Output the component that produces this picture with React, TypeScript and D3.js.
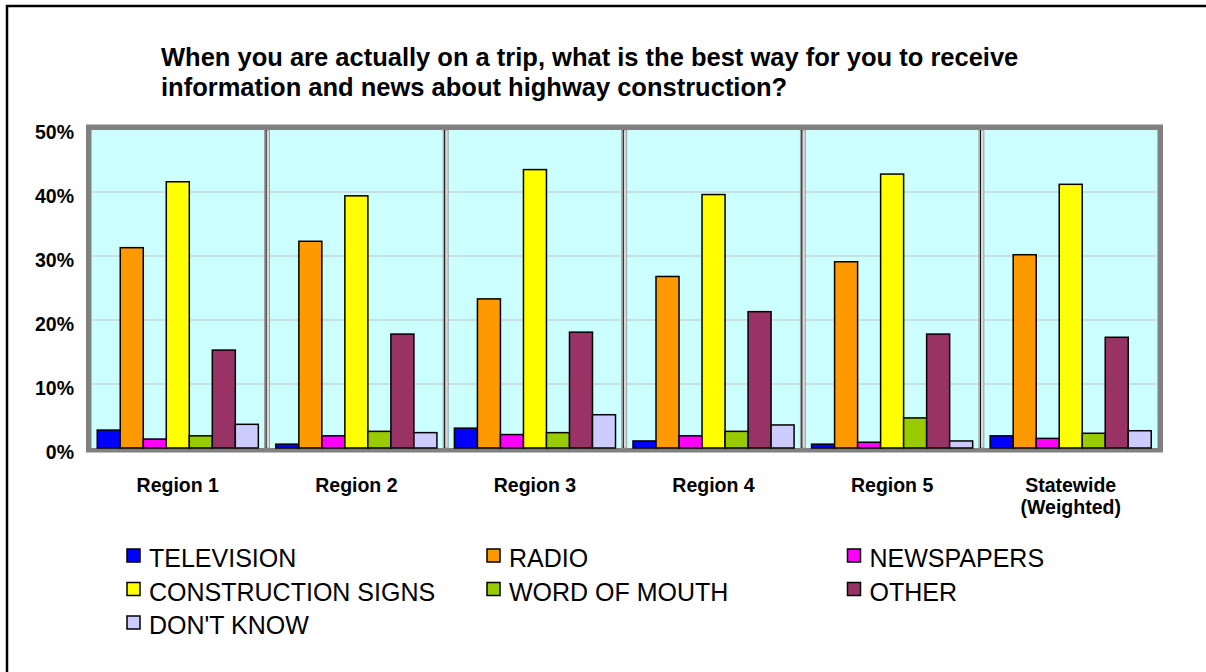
import React from "react";
import * as d3 from "d3";

const categories = ["Region 1", "Region 2", "Region 3", "Region 4", "Region 5", "Statewide (Weighted)"];
const seriesNames = ["TELEVISION", "RADIO", "NEWSPAPERS", "CONSTRUCTION SIGNS", "WORD OF MOUTH", "OTHER", "DON'T KNOW"];
const seriesColors = ["#0000FF", "#FF9900", "#FF00FF", "#FFFF00", "#99CC00", "#993366", "#CCCCFF"];

const television = [2.8, 0.6, 3.1, 1.1, 0.6, 1.9];
const radio = [31.3, 32.3, 23.3, 26.8, 29.1, 30.2];
const newspapers = [1.4, 1.9, 2.1, 1.9, 0.9, 1.5];
const constructionSigns = [41.6, 39.4, 43.5, 39.6, 42.8, 41.2];
const wordOfMouth = [1.9, 2.6, 2.4, 2.6, 4.7, 2.3];
const other = [15.3, 17.8, 18.1, 21.3, 17.8, 17.3];
const dontKnow = [3.7, 2.4, 5.2, 3.6, 1.1, 2.7];

const seriesValues = [television, radio, newspapers, constructionSigns, wordOfMouth, other, dontKnow];
const yTicks = [0, 10, 20, 30, 40, 50];
const titleLines = [
  "When you are actually on a trip, what is the best way for you to receive",
  "information and news about highway construction?",
];

export default function App() {
  const W = 1206, H = 672;
  const x0 = d3.scaleBand<string>().domain(categories).range([88.5, 1160]).padding(0);
  const x1 = d3.scaleBand<string>().domain(seriesNames).range([0, x0.bandwidth()]).paddingInner(0).paddingOuter(0.38);
  const y = d3.scaleLinear().domain([0, 50]).range([448, 128]);
  const font = "Arial, 'Liberation Sans', sans-serif";

  const legendCols = [126, 486, 846.5];
  const legendRows = [567, 600.5, 634];

  return (
    <svg width={W} height={H} style={{ position: "absolute", left: 0, top: 0, background: "#fff", overflow: "hidden" }}>
      <path d={`M7,${H} V6 H${W}`} fill="none" stroke="#000" strokeWidth={2.5} />
      {titleLines.map((t, i) => (
        <text key={i} x={161} y={66 + i * 30} fontFamily={font} fontWeight="bold" fontSize={25.5} fill="#000">
          {t}
        </text>
      ))}
      {/* plot frame */}
      <rect x={86} y={124.5} width={1077} height={328} fill="#808080" />
      <rect x={91.5} y={130} width={1066} height={318} fill="#CCFFFF" />
      {yTicks.filter((t) => t > 0 && t < 50).map((t) => (
        <line key={t} x1={91.5} x2={1157.5} y1={y(t)} y2={y(t)} stroke="#C0C0C0" strokeWidth={1.2} />
      ))}
      {categories.slice(1).map((c) => {
        const sx = x0(c)!;
        return (
          <g key={c}>
            <rect x={sx - 2.5} y={130} width={5} height={318} fill="#D8D8D8" stroke="#909090" strokeWidth={0.8} />
            <line x1={sx - 1} x2={sx - 1} y1={130} y2={448} stroke="#000" strokeWidth={1} />
          </g>
        );
      })}
      {categories.map((c, ci) => (
        <g key={c} transform={`translate(${x0(c)},0)`}>
          {seriesNames.map((s, si) => {
            const v = seriesValues[si][ci];
            return (
              <rect
                key={s}
                x={x1(s)!}
                y={y(v)}
                width={x1.bandwidth()}
                height={y(0) - y(v)}
                fill={seriesColors[si]}
                stroke="#000"
                strokeWidth={1.5}
              />
            );
          })}
        </g>
      ))}
      {yTicks.map((t) => (
        <text key={t} x={74} y={y(t) + 11} textAnchor="end" fontFamily={font} fontWeight="bold" fontSize={19.5} fill="#000">
          {t}%
        </text>
      ))}
      {categories.map((c) => {
        const cx = x0(c)! + x0.bandwidth() / 2;
        const parts = c === "Statewide (Weighted)" ? ["Statewide", "(Weighted)"] : [c];
        return parts.map((p, i) => (
          <text key={c + i} x={cx} y={492 + i * 22} textAnchor="middle" fontFamily={font} fontWeight="bold" fontSize={19.5} fill="#000">
            {p}
          </text>
        ));
      })}
      {seriesNames.map((s, i) => {
        const col = i % 3, row = Math.floor(i / 3);
        const lx = legendCols[col], ly = legendRows[row];
        return (
          <g key={s}>
            <rect x={lx + 1} y={ly - 18} width={13} height={13} fill={seriesColors[i]} stroke="#000" strokeWidth={1.5} />
            <text x={lx + 23} y={ly} fontFamily={font} fontSize={25} fill="#000">
              {s}
            </text>
          </g>
        );
      })}
    </svg>
  );
}
